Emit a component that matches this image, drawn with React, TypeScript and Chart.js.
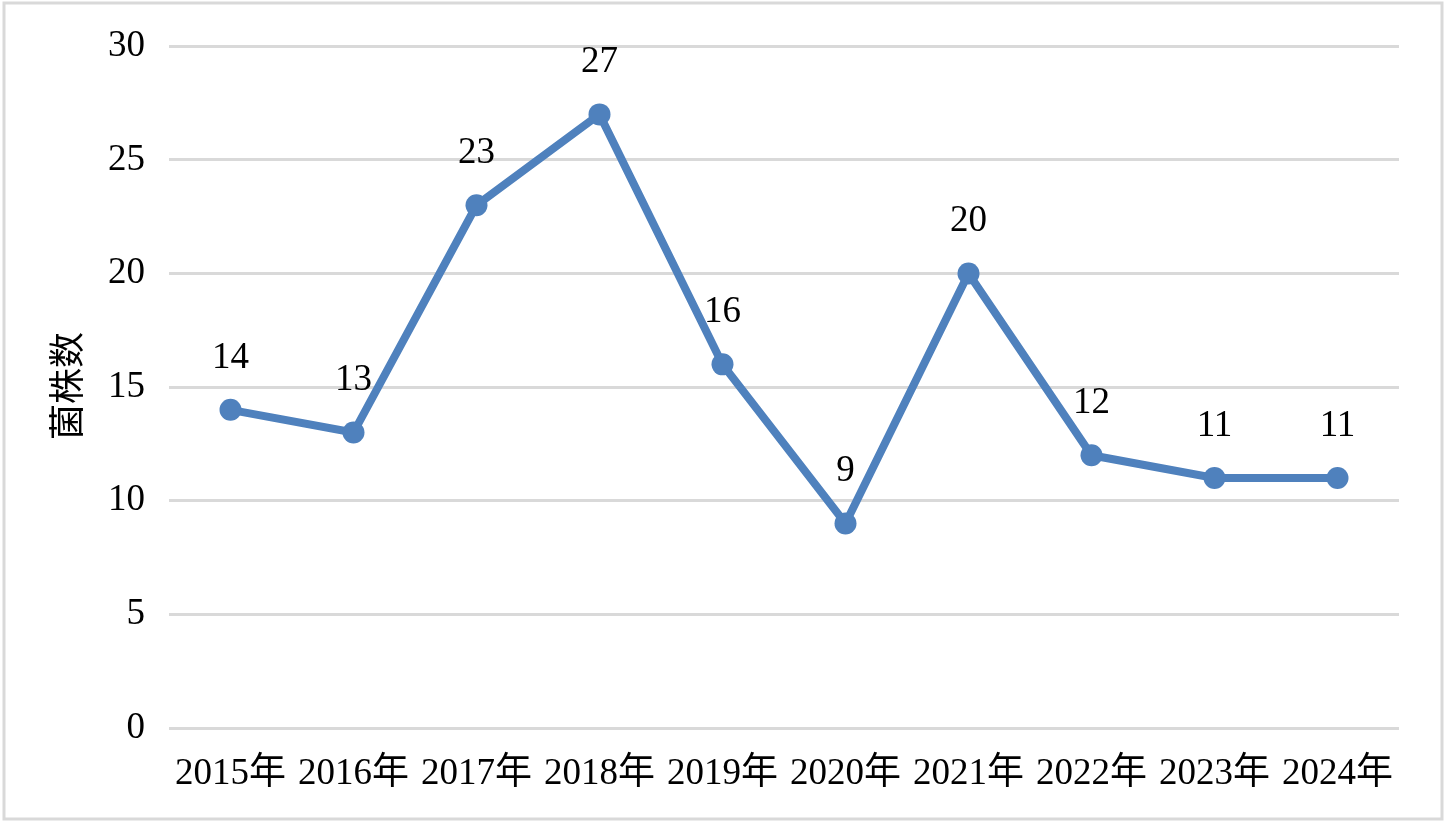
import React, { useEffect, useRef } from "react";
import { Chart, registerables } from "chart.js";

Chart.register(...registerables);

const categories = ["2015年", "2016年", "2017年", "2018年", "2019年", "2020年", "2021年", "2022年", "2023年", "2024年"];
const strainCounts = [14, 13, 23, 27, 16, 9, 20, 12, 11, 11];
const yTicks = [0, 5, 10, 15, 20, 25, 30];
const yTitle = "菌株数";

const FONT = "'Liberation Serif', 'Times New Roman', 'Noto Sans CJK SC', serif";
const LINE_COLOR = "rgb(79,129,189)";

export default function App() {
  const ref = useRef<HTMLCanvasElement | null>(null);

  useEffect(() => {
    document.body.style.margin = "0";
    const canvas = ref.current;
    if (!canvas) return;

    const decorPlugin = {
      id: "decor",
      beforeDraw(chart: any) {
        const ctx = chart.ctx;
        ctx.save();
        ctx.fillStyle = "#ffffff";
        ctx.fillRect(0, 0, chart.width, chart.height);
        ctx.strokeStyle = "#D9D9D9";
        ctx.lineWidth = 3;
        ctx.strokeRect(4, 3, chart.width - 8, chart.height - 7);
        ctx.restore();
      },
      afterDraw(chart: any) {
        const ctx = chart.ctx;
        ctx.save();
        ctx.translate(71, 386);
        ctx.rotate(-Math.PI / 2);
        ctx.font = `36px ${FONT}`;
        ctx.fillStyle = "#000";
        ctx.textAlign = "center";
        ctx.textBaseline = "middle";
        ctx.fillText(yTitle, 0, 0);
        ctx.restore();
      },
      afterDatasetsDraw(chart: any) {
        const ctx = chart.ctx;
        const meta = chart.getDatasetMeta(0);
        ctx.save();
        ctx.font = `37px ${FONT}`;
        ctx.fillStyle = "#000";
        ctx.textAlign = "center";
        ctx.textBaseline = "middle";
        meta.data.forEach((pt: any, i: number) => {
          ctx.fillText(String(strainCounts[i]), pt.x, pt.y - 52);
        });
        ctx.restore();
      },
    };

    const chart = new Chart(canvas, {
      type: "line",
      data: {
        labels: categories,
        datasets: [
          {
            data: strainCounts,
            borderColor: LINE_COLOR,
            backgroundColor: LINE_COLOR,
            borderWidth: 8,
            pointRadius: 11,
            pointBackgroundColor: LINE_COLOR,
            pointBorderColor: LINE_COLOR,
            pointBorderWidth: 0,
            tension: 0,
          },
        ],
      },
      options: {
        responsive: false,
        animation: false,
        layout: { padding: { left: 0, right: 47, top: 43, bottom: 0 } },
        plugins: { legend: { display: false }, tooltip: { enabled: false } },
        scales: {
          x: {
            offset: true,
            grid: { display: false, drawTicks: false },
            border: { display: false },
            ticks: {
              autoSkip: false,
              maxRotation: 0,
              minRotation: 0,
              padding: 24,
              color: "#000",
              font: { family: FONT, size: 37 },
            },
            afterFit(scale: any) {
              scale.height = 95;
            },
          },
          y: {
            min: 0,
            max: 30,
            afterBuildTicks(scale: any) {
              scale.ticks = yTicks.map((v) => ({ value: v }));
            },
            grid: { color: "#D9D9D9", lineWidth: 3, drawTicks: false },
            border: { display: false },
            ticks: {
              padding: 24,
              color: "#000",
              font: { family: FONT, size: 37 },
            },
            afterFit(scale: any) {
              scale.width = 169;
            },
          },
        },
      },
      plugins: [decorPlugin],
    });

    return () => chart.destroy();
  }, []);

  return <canvas ref={ref} width={1446} height={823} style={{ display: "block" }} />;
}
